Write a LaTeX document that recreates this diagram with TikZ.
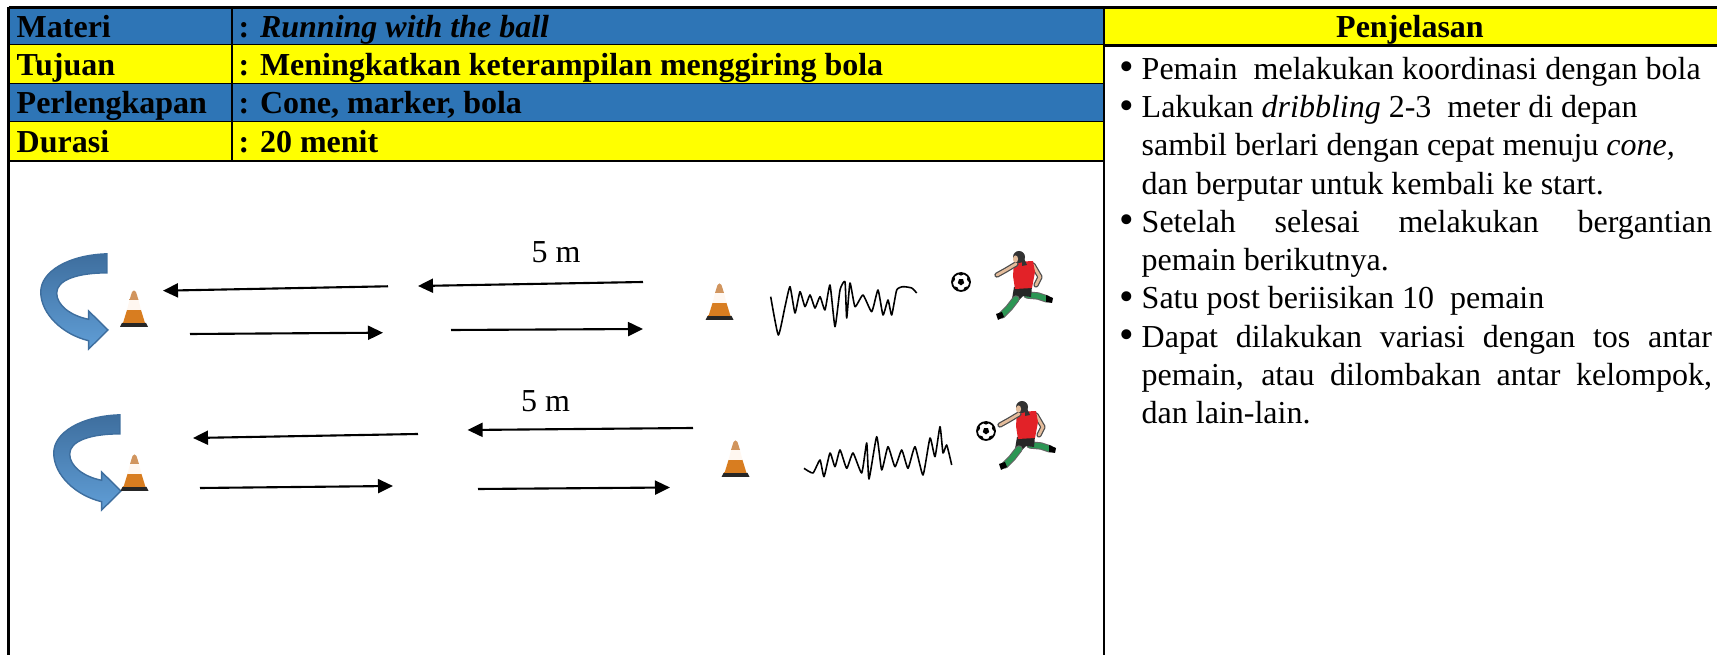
\documentclass[tikz,border=0pt]{standalone}
\usepackage{fontspec}
\setmainfont{Liberation Serif}
\usetikzlibrary{arrows.meta}

\definecolor{hdrblue}{RGB}{46,117,182}
\definecolor{hdryellow}{RGB}{255,255,0}
\definecolor{coneorange}{RGB}{246,142,36}
\definecolor{conetip}{RGB}{232,166,104}
\definecolor{shirtred}{RGB}{226,34,40}
\definecolor{sockgreen}{RGB}{44,150,84}
\definecolor{skin}{RGB}{228,188,155}
\definecolor{turnlight}{RGB}{96,158,214}
\definecolor{turndark}{RGB}{62,110,158}

\newcommand{\tabfont}{\fontsize{9.1}{10.87}\selectfont}
\newcommand{\butir}{\par\noindent\hangindent=0.22cm\hangafter=1\makebox[0.22cm][l]{\raisebox{-0.1ex}{\scalebox{1.3}{\textbullet}}}}

\tikzset{
	tabline/.style={line width=0.75pt},
	hdr/.style={anchor=base west, inner sep=0pt, font=\tabfont\bfseries},
	runarrow/.style={line width=0.6pt, -{Triangle[length=0.15cm, width=0.14cm]}},
	scribble/.style={line width=0.45pt, line join=round},
	% traffic cone, origin at the middle of its foot
	cone/.pic={
		\fill[black!85] (-14,0) -- (14,0) -- (12,-4) -- (-12,-4) -- cycle;
		\shade[left color=coneorange!88!black, middle color=coneorange, right color=coneorange!88!black] (-11,-4) -- (11,-4) -- (7,-17) -- (-7,-17) -- cycle;
		\fill[orange!6] (-7,-17) -- (7,-17) -- (4.5,-27) -- (-4.5,-27) -- cycle;
		\shade[left color=conetip!90!black, middle color=conetip, right color=conetip!90!black] (-4.5,-27) -- (4.5,-27) -- (2,-35) .. controls (1,-37) and (-1,-37) .. (-2,-35) -- cycle;
	},
	% ball, origin at its centre
	ball/.pic={
		\fill[white] (0,0) circle (9);
		\begin{scope}
			\clip (0,0) circle (9);
			\fill[black] (90:3.4) -- (162:3.4) -- (234:3.4) -- (306:3.4) -- (18:3.4) -- cycle;
			\foreach \a in {54,126,198,270,342}
				\fill[black] (\a:9.6) circle (3.2);
		\end{scope}
		\draw[line width=0.5pt] (0,0) circle (9);
	},
	% player kicking to the left, origin at top left
	kicker/.pic={
		\draw[double=skin, double distance=0.8pt, line width=0.35pt, draw=black!70, line cap=round, line join=round] (37,15) -- (44,27) -- (40,35);
		\draw[double=sockgreen, double distance=1.5pt, line width=0.3pt, draw=black!60, line cap=round, line join=round] (31,45) -- (42,46) -- (51,49);
		\fill[black] (50,45) -- (57,48) -- (56,53) -- (50,52) -- cycle;
		\fill[black!85] (18,37) -- (36,36) -- (35,47) -- (27,46) -- (21,52) -- (16,49) -- cycle;
		\fill[shirtred] (18,12) -- (37,11) -- (39,22) -- (36,38) -- (19,39) -- (17,26) -- cycle;
		\draw[double=sockgreen, double distance=1.5pt, line width=0.3pt, draw=black!60, line cap=round, line join=round] (20,49) -- (13,58) -- (6,65);
		\fill[black] (0,64) -- (6,62) -- (8,67) -- (2,70) -- cycle;
		\draw[double=skin, double distance=0.8pt, line width=0.35pt, draw=black!70, line cap=round, line join=round] (20,14) -- (10,20) -- (1,25);
		\fill[black!80] (26,4) -- (31,15) -- (26,16) -- cycle;
		\fill[black!80] (23,7) circle (6);
		\fill[skin] (19.5,9) ellipse (2.6 and 3.6);
	},
	% turning arrow, origin at its tip
	uturn/.pic={
		\shadedraw[draw=turndark, line width=0.4pt, top color=turndark, bottom color=turnlight]
			(-1,-64) .. controls (-35,-63) and (-59,-49) .. (-59,-32)
			.. controls (-59,-13) and (-39,4) .. (-17,9)
			-- (-17,16) -- (0,0) -- (-17,-16) -- (-17,-9)
			.. controls (-33,-12) and (-45,-21) .. (-45,-31)
			.. controls (-45,-42) and (-27,-48) .. (-1,-48) -- cycle;
	}
}

\begin{document}
\begin{tikzpicture}[x=0.01cm, y=-0.01cm, font=\tabfont]
	\useasboundingbox (0,0) rectangle (1717,655);

	\def\xl{8.5}
	\def\xa{232}
	\def\xm{1104}
	\def\xr{1717}

	% header rows of the table
	\foreach \ya/\yb/\clr in {7.5/45.5/hdrblue, 45.5/84/hdryellow, 84/122.5/hdrblue, 122.5/161/hdryellow} {
		\fill[\clr] (\xl,\ya) rectangle (\xm,\yb);
		\draw[tabline] (\xl,\yb) -- (\xm,\yb);
	}
	\fill[hdryellow] (\xm,7.5) rectangle (\xr,45.5);
	\draw[tabline] (\xl,7.5) -- (\xr,7.5);
	\draw[tabline] (\xm,45.5) -- (\xr,45.5);
	\draw[tabline] (\xl,7.5) -- (\xl,655);
	\draw[tabline] (\xa,7.5) -- (\xa,161);
	\draw[tabline] (\xm,7.5) -- (\xm,655);

	\foreach \y/\name/\lbl/\val in {37.5/materi/Materi/{: \textit{Running with the ball}}, 75.5/tujuan/Tujuan/{: Meningkatkan keterampilan menggiring bola}, 114/alat/Perlengkapan/{: Cone, marker, bola}, 152.5/durasi/Durasi/{: 20 menit}} {
		\node[hdr] (\name) at (16,\y) {\lbl};
		\node[hdr] (\name-val) at (238,\y) {\val};
	}
	\node[hdr, anchor=base] (penjelasan) at (1410,37.5) {Penjelasan};

	\node[anchor=base west, inner sep=0pt] (isi) at (1119,79.5) {%
		\begin{minipage}[t]{5.92cm}
		\butir Pemain\ \ melakukan koordinasi dengan bola
		\butir Lakukan \textit{dribbling} 2-3\ \ meter di depan\newline sambil berlari dengan cepat menuju \textit{cone,}\newline dan berputar untuk kembali ke start.
		\butir Setelah selesai melakukan bergantian\linebreak pemain berikutnya.
		\butir Satu post beriisikan 10\ \ pemain
		\butir Dapat dilakukan variasi dengan tos antar\linebreak pemain, atau dilombakan antar kelompok,\linebreak dan lain-lain.\par
		\end{minipage}%
	};

	% running lanes
	\foreach \ax/\ay/\bx/\by in {388/286.3/163/290.7, 643/282/418/286, 190/334/383/332.7, 451/330/643/329, 418/434/193/438, 693/428/467.6/430, 200/488/393/486, 478/489/670/487.5}
		\draw[runarrow] (\ax,\ay) -- (\bx,\by);

	\node[anchor=base] (jarakA) at (556,263) {5 m};
	\node[anchor=base] (jarakB) at (545.5,412) {5 m};

	\pic[xscale=1.14, yscale=1.19] at (108,330) {uturn};
	\pic[xscale=1.14, yscale=1.19] at (121,491) {uturn};
	\foreach \x/\y in {134/327, 719.5/320, 134.5/491, 735.5/477}
		\pic at (\x,\y) {cone};

	% dribbling tracks
	\draw[scribble] plot[smooth, tension=0.3] coordinates {(770.7,296.7) (778.3,335) (785,306.7) (790,286.7) (795,313) (800,291.7) (805,306.7) (810,295) (815,308) (820,296.7) (825,310) (830,285) (835,326.7) (840,290) (845,281.7) (846.7,318) (850,283) (855,306.7) (863,295) (871.7,311.7) (878,290) (883,315) (888,300) (891.7,315) (896.7,290) (903,286.7) (911.7,288) (916.7,293)};
	\draw[scribble] plot[smooth, tension=0.3] coordinates {(804,468.3) (813,473) (820,460) (824,476.7) (830,453) (835,466.7) (840,450) (846.7,468.3) (853,453) (861.7,473) (866.7,443) (869,479) (876.7,436.7) (881.7,470) (888,446.7) (895,466.7) (901.7,450) (908,468.3) (915,446.7) (923,475) (930,438) (935,456.7) (940,426.7) (943,453) (946.7,445) (951.7,465)};

	\pic at (961,282) {ball};
	\pic at (986,431) {ball};
	\pic at (996,250) {kicker};
	\pic at (999,400) {kicker};
\end{tikzpicture}
\end{document}
